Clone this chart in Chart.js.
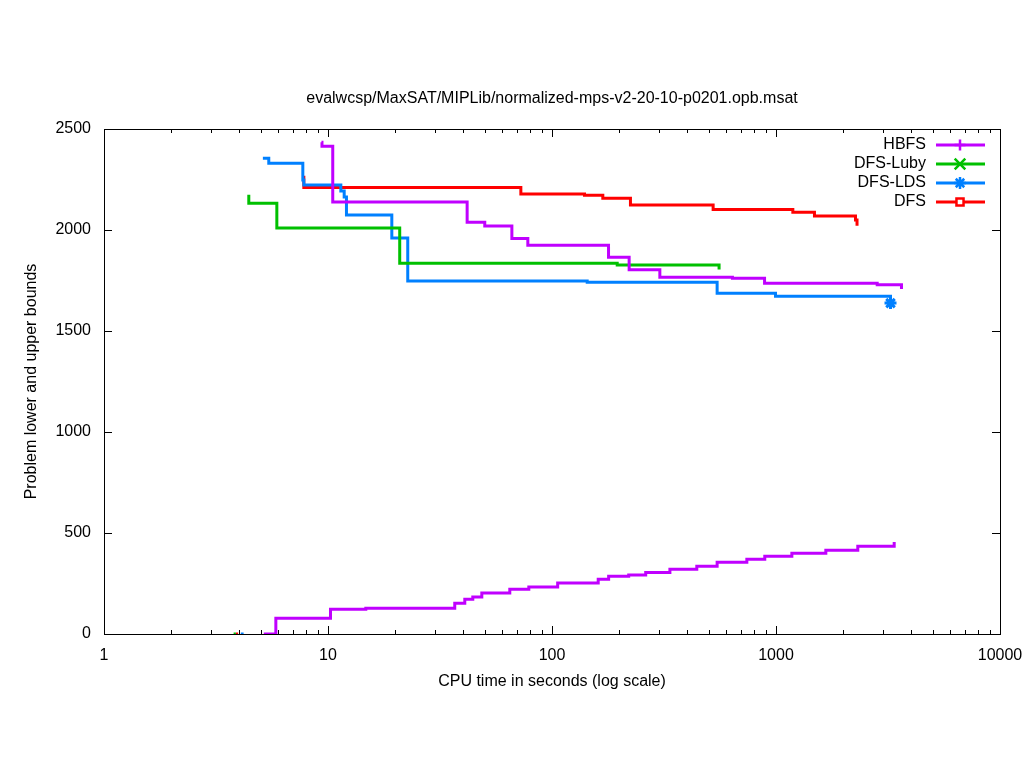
<!DOCTYPE html>
<html>
<head>
<meta charset="utf-8">
<script src="https://cdn.jsdelivr.net/npm/chart.js@4/dist/chart.umd.min.js"></script>
<style>
  html, body { margin: 0; padding: 0; background: #fff; }
  canvas { display: block; }
</style>
</head>
<body>
<canvas id="chart" width="1024" height="768"></canvas>
<script>
// step series: time (s) where the bound changes, new bound
const hbfsUpperTimes = [9.35, 9.4, 10.5, 41.8, 50.1, 66.2, 78.0, 178.8, 221, 303, 639, 889, 2830, 3632];
const hbfsUpperValues = [2435, 2415, 2138, 2038, 2020, 1958, 1924, 1865, 1803, 1766, 1761, 1736, 1729, 1708];

const hbfsLowerTimes = [5.17, 5.85, 10.26, 14.75, 36.8, 40.8, 44.3, 48.6, 64.8, 78.8, 106, 160.8, 179, 220, 262, 336, 443, 546, 741, 891, 1177, 1669, 2318, 3370];
const hbfsLowerValues = [0, 78, 122, 127, 152, 172, 183, 203, 221, 233, 253, 271, 286, 292, 305, 320, 335, 355, 370, 385, 400, 414, 434, 455];

const lubyUpperTimes = [4.43, 4.43, 5.91, 20.9, 195.5, 557];
const lubyUpperValues = [2175, 2133, 2010, 1836, 1827, 1805];
const lubyLowerTimes = [3.79, 3.88];
const lubyLowerValues = [0, 0];

const ldsUpperTimes = [5.12, 5.44, 7.72, 7.8, 11.41, 11.81, 12.09, 19.27, 22.7, 143.6, 546, 995, 3245, 3245];
const ldsUpperValues = [2355, 2330, 2247, 2223, 2193, 2163, 2074, 1960, 1747, 1741, 1687, 1672, 1672, 1638];
const ldsLowerTimes = [4.08, 4.2];
const ldsLowerValues = [0, 0];

const dfsUpperTimes = [7.8, 7.8, 72.6, 139.7, 168.6, 224, 524, 1189, 1485, 2264, 2300];
const dfsUpperValues = [2269, 2211, 2178, 2172, 2157, 2124, 2102, 2088, 2069, 2050, 2021];
const dfsLowerTimes = [3.88, 3.97];
const dfsLowerValues = [0, 0];

const xTicks = [1, 10, 100, 1000, 10000];
const yTicks = [0, 500, 1000, 1500, 2000, 2500];

const legendItems = [
    { label: "HBFS", color: "#c000ff", marker: "cross" },
    { label: "DFS-Luby", color: "#00c000", marker: "crossRot" },
    { label: "DFS-LDS", color: "#0080ff", marker: "star" },
    { label: "DFS", color: "#ff0000", marker: "rect" },
];

const TITLE = "evalwcsp/MaxSAT/MIPLib/normalized-mps-v2-20-10-p0201.opb.msat";
const FONT = "'Liberation Sans', Arial, sans-serif";

function pts(xs, ys) {
    return xs.map((x, i) => ({ x, y: ys[i] }));
}

function stepSet(label, xs, ys, color, extra) {
    return Object.assign({
        label,
        data: pts(xs, ys),
        showLine: true,
        stepped: "before",
        borderColor: color,
        backgroundColor: color,
        borderWidth: 3,
        pointRadius: 0,
        pointHoverRadius: 0,
    }, extra || {});
}

const markerRadius = { cross: 5.5, crossRot: 7.5, star: 6, rect: 5 };

const gnuplotFrame = {
    id: "gnuplotFrame",
    afterDraw(chart) {
        const ctx = chart.ctx;
        const { left, right, top, bottom } = chart.chartArea;
        const xs = chart.scales.x;
        const ys = chart.scales.y;
        ctx.save();

        // title centred over the plot box
        ctx.fillStyle = "#000";
        ctx.font = "16px " + FONT;
        ctx.textAlign = "center";
        ctx.textBaseline = "middle";
        ctx.fillText(TITLE, (left + right) / 2, 99);

        // inward major/minor ticks on all four sides
        ctx.strokeStyle = "#000";
        ctx.lineWidth = 1;
        ctx.beginPath();
        for (let k = 0; k < 4; k++) {
            for (let m = 1; m < 10; m++) {
                const px = Math.round(xs.getPixelForValue(m * Math.pow(10, k))) + 0.5;
                const len = m === 1 ? 8 : 4;
                ctx.moveTo(px, bottom); ctx.lineTo(px, bottom - len);
                ctx.moveTo(px, top); ctx.lineTo(px, top + len);
            }
        }
        yTicks.forEach(v => {
            const py = Math.round(ys.getPixelForValue(v)) + 0.5;
            ctx.moveTo(left, py); ctx.lineTo(left + 8, py);
            ctx.moveTo(right, py); ctx.lineTo(right - 8, py);
        });
        ctx.stroke();
        ctx.strokeRect(Math.round(left) + 0.5, Math.round(top) + 0.5,
            Math.round(right - left), Math.round(bottom - top));

        // legend, gnuplot style: right aligned text, then sample line with marker
        ctx.font = "16px " + FONT;
        ctx.textAlign = "right";
        legendItems.forEach((it, i) => {
            const y = 145 + i * 19;
            ctx.fillStyle = "#000";
            ctx.fillText(it.label, 926, y);
            ctx.strokeStyle = it.color;
            ctx.lineWidth = 3;
            ctx.beginPath();
            ctx.moveTo(936, y); ctx.lineTo(985, y);
            ctx.stroke();
            ctx.fillStyle = it.marker === "rect" ? "#fff" : it.color;
            ctx.lineWidth = 2.5;
            Chart.helpers.drawPoint(ctx, {
                pointStyle: it.marker,
                radius: markerRadius[it.marker],
                rotation: 0,
                borderWidth: 2.5,
            }, 960, y);
        });
        ctx.restore();
    },
};

const ctx = document.getElementById("chart").getContext("2d");
const chart = new Chart(ctx, {
    type: "scatter",
    data: {
        datasets: [
            stepSet("HBFS", hbfsUpperTimes, hbfsUpperValues, "#c000ff"),
            stepSet("HBFS lb", hbfsLowerTimes, hbfsLowerValues, "#c000ff"),
            stepSet("DFS-Luby", lubyUpperTimes, lubyUpperValues, "#00c000"),
            stepSet("DFS-Luby lb", lubyLowerTimes, lubyLowerValues, "#00c000"),
            stepSet("DFS-LDS", ldsUpperTimes, ldsUpperValues, "#0080ff", {
                pointStyle: "star",
                pointRadius: c => (c.dataIndex === ldsUpperTimes.length - 1 ? 6 : 0),
                pointBorderWidth: 3,
            }),
            stepSet("DFS-LDS lb", ldsLowerTimes, ldsLowerValues, "#0080ff"),
            stepSet("DFS", dfsUpperTimes, dfsUpperValues, "#ff0000"),
            stepSet("DFS lb", dfsLowerTimes, dfsLowerValues, "#ff0000"),
        ],
    },
    options: {
        responsive: false,
        animation: false,
        devicePixelRatio: 1,
        layout: { padding: { left: 0, right: 24, top: 129, bottom: 0 } },
        plugins: {
            legend: { display: false },
            tooltip: { enabled: false },
            title: { display: false },
        },
        scales: {
            x: {
                type: "logarithmic",
                min: 1,
                max: 10000,
                afterBuildTicks: s => { s.ticks = xTicks.map(v => ({ value: v })); },
                afterFit: s => { s.height = 134; s.paddingLeft = 0; s.paddingRight = 0; },
                grid: { display: false, drawTicks: false },
                border: { display: false },
                ticks: {
                    autoSkip: false,
                    maxRotation: 0,
                    padding: 12,
                    color: "#000",
                    font: { family: FONT, size: 16 },
                    callback: v => String(v),
                },
                title: {
                    display: true,
                    text: "CPU time in seconds (log scale)",
                    color: "#000",
                    font: { family: FONT, size: 16, lineHeight: 1.2 },
                    padding: { top: 0, bottom: 77 },
                },
            },
            y: {
                min: 0,
                max: 2500,
                afterBuildTicks: s => { s.ticks = yTicks.map(v => ({ value: v })); },
                afterFit: s => { s.width = 104; s.paddingTop = 0; s.paddingBottom = 0; },
                grid: { display: false, drawTicks: false },
                border: { display: false },
                ticks: {
                    padding: 13,
                    color: "#000",
                    font: { family: FONT, size: 16 },
                    callback: v => String(v),
                },
                title: {
                    display: true,
                    text: "Problem lower and upper bounds",
                    color: "#000",
                    font: { family: FONT, size: 16, lineHeight: 1.2 },
                    padding: { top: 22, bottom: 0 },
                },
            },
        },
    },
    plugins: [gnuplotFrame],
});
</script>
</body>
</html>
